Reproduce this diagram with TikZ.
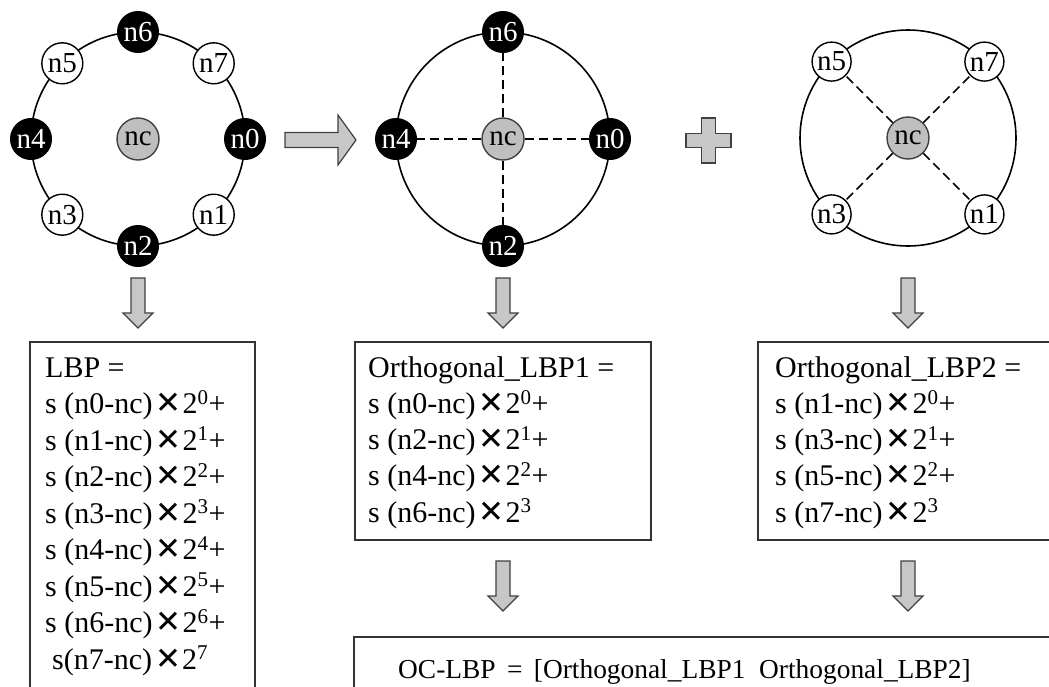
\documentclass[tikz,border=0pt]{standalone}
\usepackage{fontspec}
\setmainfont{Liberation Serif}
\newfontfamily\symfont{DejaVu Sans}
\newcommand\nodefont{\fontsize{29}{29}\selectfont}
\newcommand\boxfont{\fontsize{30}{36.5}\selectfont}
\newcommand\crs{\hspace{3pt}{\symfont\fontsize{31}{31}\selectfont ✕}\hspace{1pt}}
\tikzset{
  ring/.style={line width=1.6pt},
  blk/.style={circle, fill=black, draw=black, line width=1pt, minimum size=41pt,
    inner sep=0pt, text=white, font=\nodefont},
  wht/.style={circle, fill=white, draw=black, line width=1.4pt, minimum size=41pt,
    inner sep=0pt, font=\nodefont},
  ctr/.style={circle, fill=black!25, draw=black!75, line width=1.4pt, minimum size=42pt,
    inner sep=0pt, font=\nodefont},
  spoke/.style={dash pattern=on 9pt off 5pt, line width=1.5pt},
  blockarrow/.style={fill=black!22, draw=black!75, line width=1.2pt, line join=miter},
  box/.style={draw=black!80, line width=1.5pt, fill=none, inner sep=0pt, anchor=north west},
  txt/.style={anchor=base west, inner sep=0pt, font=\boxfont},
  downarrow/.pic={
    \path[blockarrow] (-7,0) -- (7,0) -- (7,35) -- (15,35) -- (0,50) -- (-15,35)
      -- (-7,35) -- cycle;},
  rightarrow/.pic={
    \path[blockarrow] (0,-7.5) -- (53,-7.5) -- (53,-25) -- (71,0) -- (53,25)
      -- (53,7.5) -- (0,7.5) -- cycle;},
  plussign/.pic={
    \path[blockarrow] (-7,-22.5) -- (7,-22.5) -- (7,-7) -- (22.5,-7) -- (22.5,7)
      -- (7,7) -- (7,22.5) -- (-7,22.5) -- (-7,7) -- (-22.5,7) -- (-22.5,-7)
      -- (-7,-7) -- cycle;}
}
\begin{document}
\begin{tikzpicture}[x=1pt,y=-1pt]
\useasboundingbox[fill=white] (0,0) rectangle (1049,686);

% ---- full 8-neighbour ring ----
\draw[ring] (138,139) circle[radius=107];
\node[ctr] (anc) at (138,139) {nc};
\node[blk] (a0) at (245,139) {n0};
\node[wht] (a1) at (213.7,214.7) {n1};
\node[blk] (a2) at (138,246) {n2};
\node[wht] (a3) at (62.3,214.7) {n3};
\node[blk] (a4) at (31,139) {n4};
\node[wht] (a5) at (62.3,63.3) {n5};
\node[blk] (a6) at (138,32) {n6};
\node[wht] (a7) at (213.7,63.3) {n7};

\pic (toright) at (285,140) {rightarrow};

% ---- orthogonal neighbours ----
\draw[ring] (503,139) circle[radius=107];
\node[ctr] (bnc) at (503,139) {nc};
\node[blk] (b0) at (610,139) {n0};
\node[blk] (b2) at (503,246) {n2};
\node[blk] (b4) at (396,139) {n4};
\node[blk] (b6) at (503,32) {n6};
\foreach \k in {0,2,4,6} \draw[spoke] (bnc) -- (b\k);

\pic (plus) at (708.5,140.5) {plussign};

% ---- diagonal neighbours ----
\draw[ring] (908,138) circle[radius=108];
\node[ctr] (cnc) at (908,138) {nc};
\node[wht, minimum size=39pt] (c1) at (984.4,214.4) {n1};
\node[wht, minimum size=39pt] (c3) at (831.6,214.4) {n3};
\node[wht, minimum size=39pt] (c5) at (831.6,61.6) {n5};
\node[wht, minimum size=39pt] (c7) at (984.4,61.6) {n7};
\foreach \k in {1,3,5,7} \draw[spoke] (cnc) -- (c\k);

% ---- arrows down to the code boxes ----
\pic (dA) at (138,278) {downarrow};
\pic (dB) at (503,278) {downarrow};
\pic (dC) at (908,278) {downarrow};
\pic (eB) at (503,561) {downarrow};
\pic (eC) at (908,561) {downarrow};

% ---- code boxes ----
\node[box, minimum width=225pt, minimum height=380pt] (lbpbox) at (29,341) {};
\foreach \t [count=\i] in {{LBP =},
  {s (n0-nc)\crs 2\textsuperscript{0}+},
  {s (n1-nc)\crs 2\textsuperscript{1}+},
  {s (n2-nc)\crs 2\textsuperscript{2}+},
  {s (n3-nc)\crs 2\textsuperscript{3}+},
  {s (n4-nc)\crs 2\textsuperscript{4}+},
  {s (n5-nc)\crs 2\textsuperscript{5}+},
  {s (n6-nc)\crs 2\textsuperscript{6}+},
  {\hspace{7pt}s(n7-nc)\crs 2\textsuperscript{7}}}
  \node[txt] (lbp\i) at (45,{377+36.5*(\i-1)}) {\t};

\node[box, minimum width=296pt, minimum height=198pt] (o1box) at (354,341) {};
\foreach \t [count=\i] in {{Orthogonal\_LBP1 =},
  {s (n0-nc)\crs 2\textsuperscript{0}+},
  {s (n2-nc)\crs 2\textsuperscript{1}+},
  {s (n4-nc)\crs 2\textsuperscript{2}+},
  {s (n6-nc)\crs 2\textsuperscript{3}}}
  \node[txt] (oa\i) at (368,{377+36.25*(\i-1)}) {\t};

\node[box, minimum width=320pt, minimum height=198pt] (o2box) at (757,341) {};
\foreach \t [count=\i] in {{Orthogonal\_LBP2 =},
  {s (n1-nc)\crs 2\textsuperscript{0}+},
  {s (n3-nc)\crs 2\textsuperscript{1}+},
  {s (n5-nc)\crs 2\textsuperscript{2}+},
  {s (n7-nc)\crs 2\textsuperscript{3}}}
  \node[txt] (ob\i) at (775,{377+36.25*(\i-1)}) {\t};

\node[box, minimum width=720pt, minimum height=90pt] (ocbox) at (353,636) {};
\node[txt, font=\fontsize{27.4}{30}\selectfont] (octext) at (398,678)
  {OC-LBP \,=\, [Orthogonal\_LBP1\ \ Orthogonal\_LBP2]};
\end{tikzpicture}
\end{document}
